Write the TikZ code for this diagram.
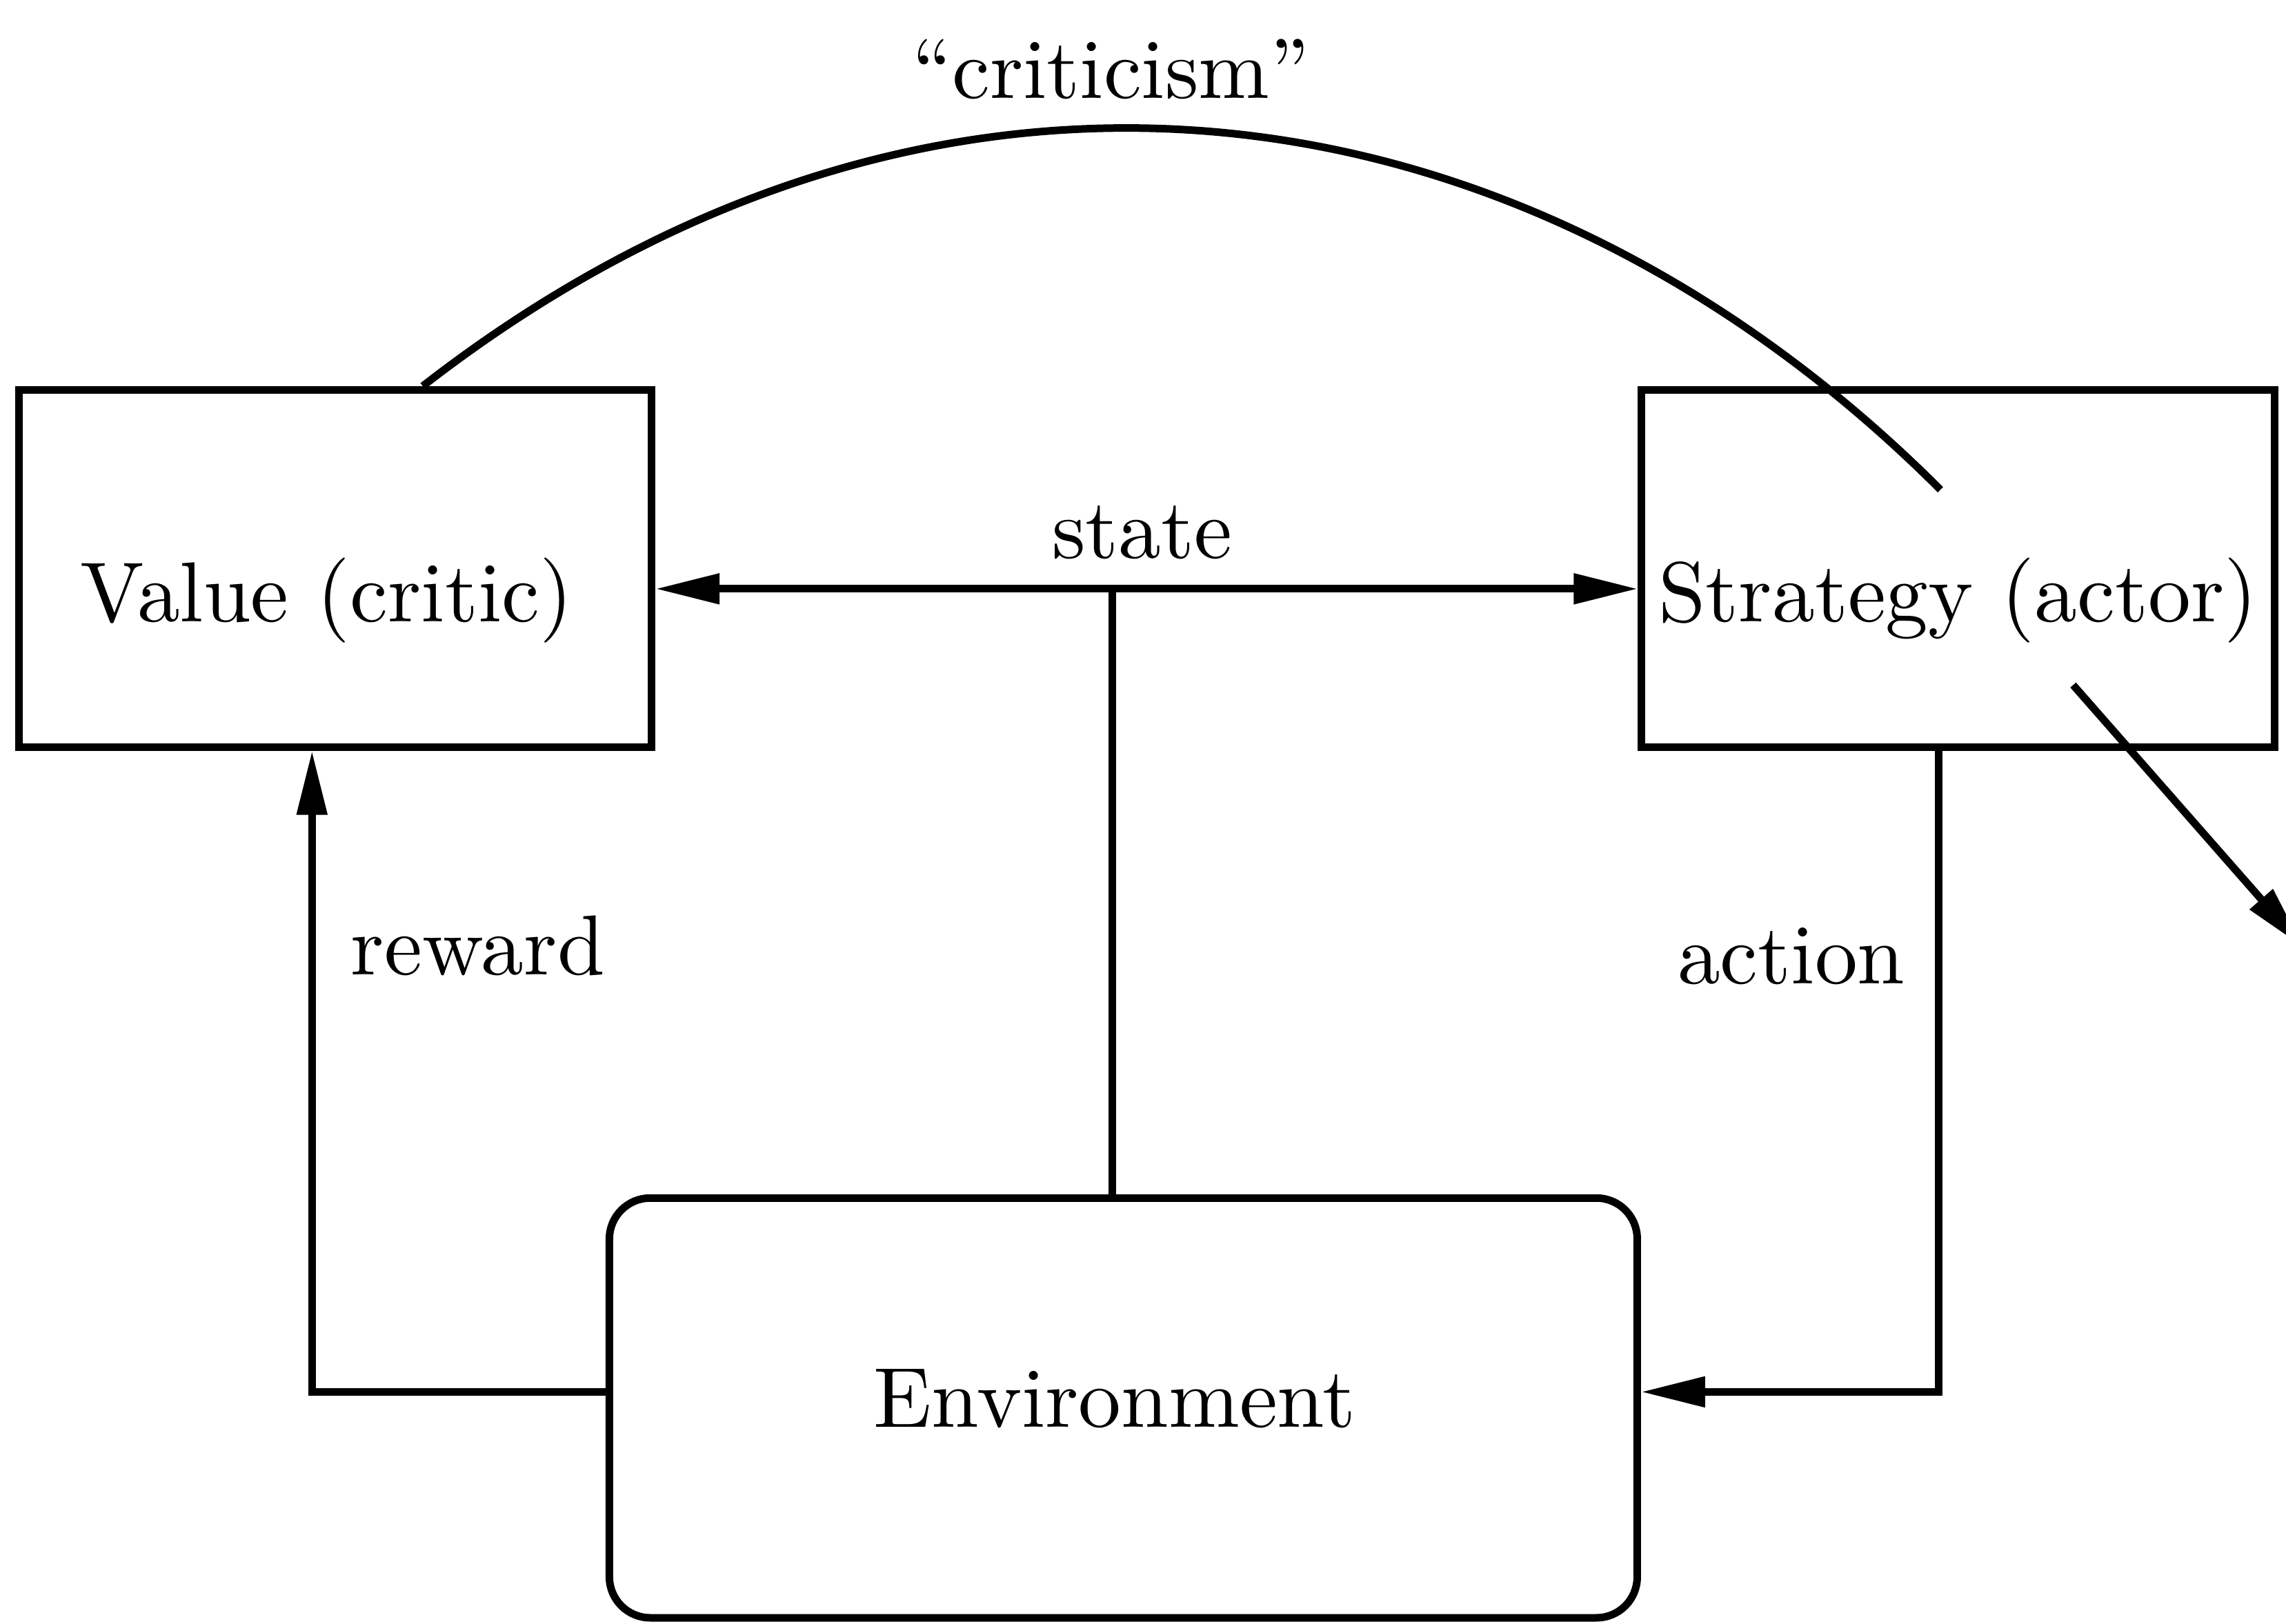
\documentclass[tikz,border=0pt]{standalone}
\usepackage{fontspec}
\setmainfont{lmroman10-regular.otf}
\usetikzlibrary{arrows.meta}
\begin{document}
\begin{tikzpicture}[x=0.25pt,y=-0.25pt,
  every node/.style={font=\fontsize{14.6}{17}\selectfont},
  box/.style={draw,line width=1.3pt,minimum width=108.5pt,minimum height=61.25pt,
    inner sep=0pt,text height=18.2pt,text depth=0pt},
  envbox/.style={draw,line width=1.3pt,rounded corners=7pt,minimum width=176.25pt,
    minimum height=72pt,inner sep=0pt,text height=6.5pt,text depth=0pt},
  link/.style={line width=1.3pt},
  arr/.style={link,-{Triangle[length=11pt,width=5pt]}},
  arrs/.style={link,{Triangle[length=11pt,width=5pt]}-{Triangle[length=11pt,width=5pt]}},
  lbl/.style={anchor=base,inner sep=0pt}]
\useasboundingbox (0,0) rectangle (1568,1114);

% the three blocks
\node[box] (val) at (230,390) {Value (critic)\kern3pt};
\node[box] (strat) at (1343,390) {Strategy (actor)};
\node[envbox] (env) at (770.5,966) {Environment\kern3pt};

% state: from the environment to both blocks
\coordinate (sl) at ([yshift=-3.5pt]val.east);
\coordinate (sr) at ([yshift=-3.5pt]strat.west);
\draw[arrs] (sl) -- (sr);
\coordinate (stembot) at ([xshift=-1.875pt]env.north);
\draw[link] (stembot) -- (stembot |- sl);

% reward and action loops
\draw[arr] ([yshift=2.75pt]env.west) -| ([xshift=-4pt]val.south);
\draw[arr] ([xshift=-3.25pt]strat.south) |- ([yshift=2.75pt]env.east);

% criticism arc from the critic into the actor
\coordinate (critend) at (1331,336);
\draw[link] ([xshift=15pt]val.north) .. controls (645,-11) and (1048,53) .. (critend);

% output of the actor
\coordinate (outA) at (1422,470);
\coordinate (outB) at (1580,650);
\draw[arr] (outA) -- (outB);

% labels
\node[lbl] (critlbl) at (762,67.5) {“criticism”};
\node[lbl] (statelbl) at (783.5,383) {state};
\node[lbl,anchor=base west] (rwlbl) at (240,669) {reward};
\node[lbl,anchor=base west] (aclbl) at (1150,675) {action};
\end{tikzpicture}
\end{document}
